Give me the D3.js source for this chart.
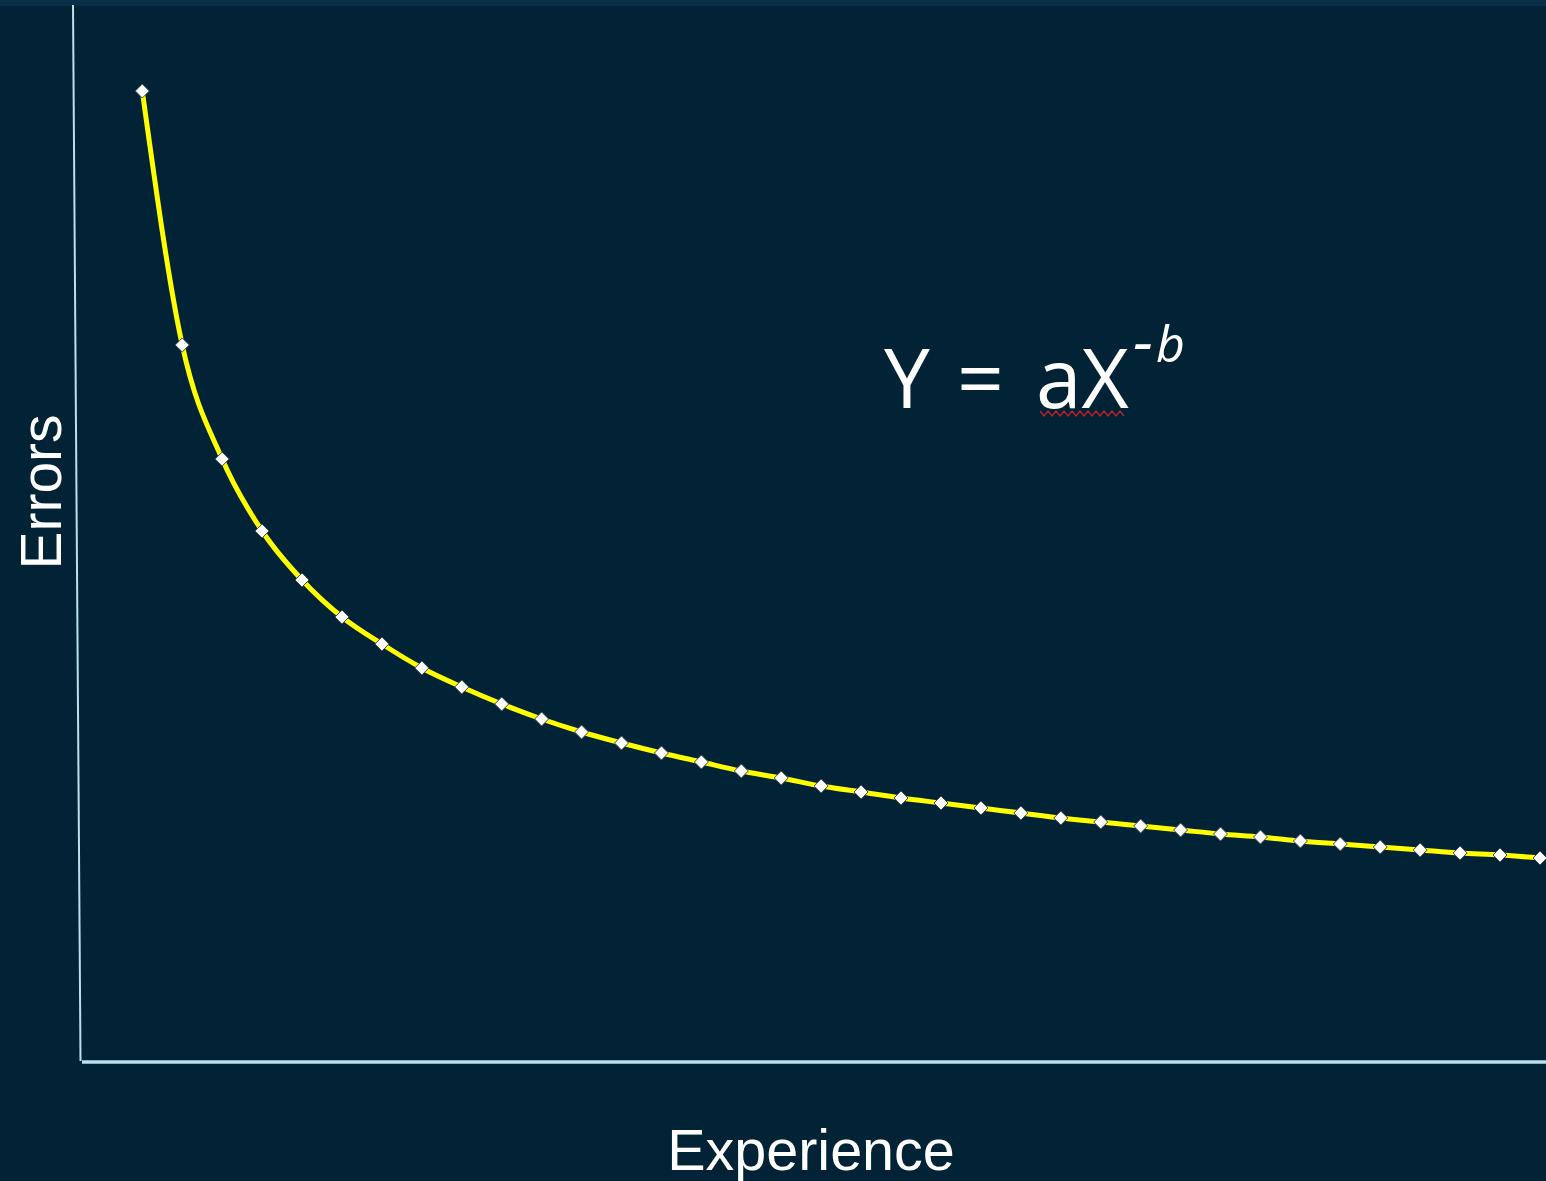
<!DOCTYPE html>
<html>
<head>
<meta charset="utf-8">
<script src="https://cdn.jsdelivr.net/npm/d3@7"></script>
<style>
  html, body { margin: 0; padding: 0; background: #012335; }
  svg { display: block; }
</style>
</head>
<body>
<script>
// ---- data ----
const experience = d3.range(1, 37); // 36 observations
const errors = [97.1, 71.7, 60.3, 53.1, 48.2, 44.5, 41.8, 39.4, 37.5, 35.8,
                34.3, 33.0, 31.9, 30.9, 30.0, 29.1, 28.4, 27.6, 27.0, 26.4,
                25.9, 25.4, 24.9, 24.4, 24.0, 23.6, 23.2, 22.8, 22.5, 22.1,
                21.8, 21.5, 21.2, 20.9, 20.7, 20.4];
const xLabel = "Experience";
const yLabel = "Errors";

const W = 1546, H = 1181;
const svg = d3.select("body").append("svg").attr("width", W).attr("height", H);

svg.append("rect").attr("width", W).attr("height", H).attr("fill", "#012335");
svg.append("rect").attr("width", W).attr("height", 6).attr("fill", "#0a3049");

const x = d3.scaleLinear().domain([1, 36]).range([142.3, 1540]);
const y = d3.scaleLinear().domain([0, 100]).range([1062, 62]);

// axes (y axis slightly slanted as in the picture)
svg.append("line").attr("x1", 73).attr("y1", 5).attr("x2", 80.5).attr("y2", 1061)
  .attr("stroke", "#b9e1ea").attr("stroke-width", 2);
svg.append("line").attr("x1", 82).attr("y1", y(0)).attr("x2", W).attr("y2", y(0))
  .attr("stroke", "#b9e1ea").attr("stroke-width", 3.5);

const pts = experience.map((e, i) => [e, errors[i]]);

svg.append("path")
  .datum(pts)
  .attr("fill", "none")
  .attr("stroke", "#ffff00")
  .attr("stroke-width", 5)
  .attr("d", d3.line().x(d => x(d[0])).y(d => y(d[1])).curve(d3.curveMonotoneX));

const sym = d3.symbol().type(d3.symbolDiamond2).size(125);
svg.append("g").selectAll("path")
  .data(pts)
  .join("path")
  .attr("transform", d => `translate(${x(d[0])},${y(d[1])})`)
  .attr("d", sym)
  .attr("fill", "#ffffff")
  .attr("stroke", "#3a4850")
  .attr("stroke-width", 1);

// axis titles
svg.append("text")
  .attr("x", 811).attr("y", 1170)
  .attr("text-anchor", "middle")
  .attr("font-family", "Liberation Sans, Arial, sans-serif")
  .attr("font-size", 57.5)
  .attr("fill", "#ffffff")
  .text(xLabel);

svg.append("text")
  .attr("transform", "translate(61,492) rotate(-90)")
  .attr("text-anchor", "middle")
  .attr("font-family", "Liberation Sans, Arial, sans-serif")
  .attr("font-size", 57)
  .attr("fill", "#ffffff")
  .text(yLabel);

// equation
const eq = svg.append("g").attr("fill", "#ffffff")
  .attr("font-family", "Open Sans, Noto Sans, sans-serif").attr("font-weight", 500);
eq.append("text").attr("x", 884).attr("y", 408).attr("font-size", 82).text("Y");
eq.append("text").attr("x", 957).attr("y", 408).attr("font-size", 82).text("=");
eq.append("text").attr("x", 1036).attr("y", 408).attr("font-size", 82).text("aX");
eq.append("text").attr("x", 1133).attr("y", 364).attr("font-size", 64)
  .attr("font-style", "italic").text("-");
eq.append("text").attr("x", 1156).attr("y", 362).attr("font-size", 50)
  .attr("font-style", "italic").text("b");

// red wavy spell-check underline under "aX"
const wave = [];
for (let px = 1040, k = 0; px <= 1126; px += 4, k++) wave.push([px, k % 2 ? 416 : 411]);
svg.append("path").attr("d", d3.line()(wave))
  .attr("fill", "none").attr("stroke", "#c0202a").attr("stroke-width", 1.4);
</script>
</body>
</html>
